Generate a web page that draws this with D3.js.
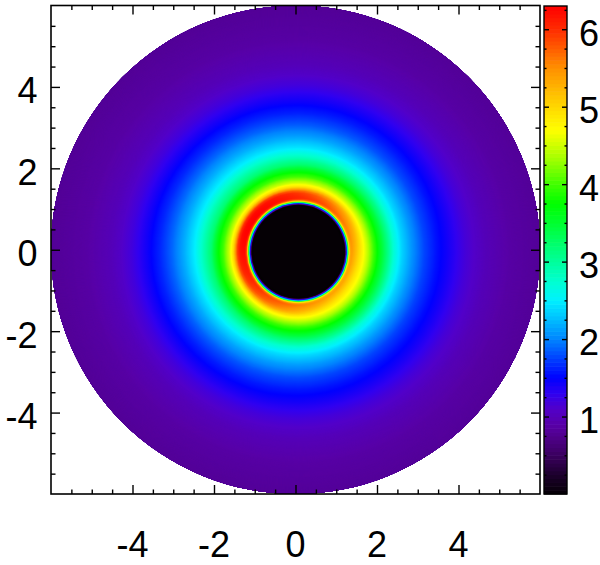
<!DOCTYPE html>
<html><head><meta charset="utf-8">
<script src="https://cdn.jsdelivr.net/npm/d3@7"></script>
<style>body{margin:0;background:#fff}svg{display:block}</style>
</head><body><svg id="c" width="600" height="565"></svg>
<script>
// ---- data ----
// radial profile (distance from the profile centre, data units)
const radii        = [1.10, 1.15, 1.17, 1.19, 1.21, 1.23, 1.25, 1.28, 1.32, 1.38, 1.44, 1.50, 1.55, 1.60, 1.70, 1.85, 2.00, 2.15, 2.35, 2.55, 2.80, 3.10, 3.40, 3.70, 4.10, 4.60, 5.20, 6.20];
// value on the hot (upper-left) side
const valuesLeft   = [0.0, 0.0, 0.8, 1.6, 2.6, 3.8, 5.0, 6.0, 6.3, 6.3, 6.25, 6.0, 5.5, 5.0, 4.5, 4.0, 3.65, 3.2, 2.85, 2.5, 2.2, 1.9, 1.65, 1.45, 1.2, 1.0, 0.88, 0.8];
// value on the opposite (lower-right) side
const valuesRight  = [0.0, 0.0, 0.8, 1.6, 2.6, 4.0, 4.9, 5.3, 5.35, 5.2, 5.05, 4.9, 4.8, 4.7, 4.45, 4.0, 3.6, 3.25, 2.7, 2.35, 2.05, 1.75, 1.55, 1.4, 1.18, 1.0, 0.88, 0.8];
const hotSideAngleDeg = [150];
const profileCenter = [0.07, -0.05];
const axisTicks = [-4, -2, 0, 2, 4];
const axisTickLabels = ["-4", "-2", "0", "2", "4"];
const axisMinorTicks = [-5.5,-5,-4.5,-3.5,-3,-2.5,-1.5,-1,-0.5,0.5,1,1.5,2.5,3,3.5,4.5,5,5.5];
const colorbarTicks = [1, 2, 3, 4, 5, 6];
const colorbarTickLabels = ["1", "2", "3", "4", "5", "6"];
const colorbarMinorTicks = d3.range(0.25, 6.3, 0.25).filter(v => Math.abs(v - Math.round(v)) > 0.01);
// colour table (value -> colour)
const colorValues = [0.0, 0.25, 0.5, 0.75, 0.9, 1.1, 1.3, 1.5, 1.75, 2.0, 2.25, 2.5, 2.75, 3.0, 3.25, 3.5, 3.75, 4.0, 4.35, 4.7, 5.0, 5.5, 6.0, 6.3];
const colorHexes  = ["#050005","#1c002c","#3a005e","#50008c","#5800a8","#5200c8","#3000f0","#0000ff","#0040ff","#0084ff","#00bcff","#00f0ff","#00ffd0","#00ff9c","#00ff68","#00ff30","#00ff00","#40ff00","#a8ff00","#ffff00","#ffd800","#ff9000","#ff2c00","#ff0000"];

// ---- drawing ----
const FONT = "'Liberation Sans', Arial, Helvetica, sans-serif";
const FS = 36;
const svg = d3.select("#c");
const x = d3.scaleLinear().domain([-6, 6]).range([51, 540]);
const y = d3.scaleLinear().domain([-6, 6]).range([494, 5.5]);
const color = d3.scaleLinear().domain(colorValues).range(colorHexes).clamp(true);
const cb = d3.scaleLinear().domain([0, 6.3]).range([494, 6]);

const defs = svg.append("defs");
defs.append("clipPath").attr("id", "disk").append("ellipse")
  .attr("cx", x(0)).attr("cy", y(0)).attr("rx", x(6) - x(0)).attr("ry", y(0) - y(6));

function profile(arr, r) {
  if (r <= radii[0]) return arr[0];
  for (let i = 1; i < radii.length; i++) {
    if (r <= radii[i]) {
      const t = (r - radii[i - 1]) / (radii[i] - radii[i - 1]);
      return arr[i - 1] + t * (arr[i] - arr[i - 1]);
    }
  }
  return arr[arr.length - 1];
}

const field = svg.append("g").attr("clip-path", "url(#disk)");
const pxu = x(1) - x(0);
const cx = x(profileCenter[0]), cy = y(profileCenter[1]);
const phi = hotSideAngleDeg[0] * Math.PI / 180;
const ux = Math.cos(phi), uy = -Math.sin(phi);
const ringRadii = d3.range(6.3, 1.08, -0.012);
ringRadii.forEach((r, i) => {
  const L = profile(valuesLeft, r), R = profile(valuesRight, r);
  const a = (L + R) / 2, b = (L - R) / 2;
  const rp = r * pxu;
  let fill;
  if (Math.abs(b) < 0.005) {
    fill = color(a);
  } else {
    const id = "g" + i;
    const lg = defs.append("linearGradient").attr("id", id)
      .attr("gradientUnits", "userSpaceOnUse")
      .attr("x1", cx - rp * ux).attr("y1", cy - rp * uy)
      .attr("x2", cx + rp * ux).attr("y2", cy + rp * uy);
    d3.range(0, 17).forEach(k => {
      const o = k / 16;
      lg.append("stop").attr("offset", o).attr("stop-color", color(a + b * (2 * o - 1)));
    });
    fill = "url(#" + id + ")";
  }
  field.append("circle").attr("cx", cx).attr("cy", cy).attr("r", rp).attr("fill", fill);
});

// ---- frame ticks ----
function ticks(axisGen, tx, ty, vals, size) {
  const g = svg.append("g").attr("transform", `translate(${tx},${ty})`)
    .call(axisGen.tickValues(vals).tickSize(size).tickFormat(""));
  g.select(".domain").remove();
  g.selectAll("line").attr("stroke", "#000").attr("stroke-width", 1.4);
  return g;
}
ticks(d3.axisBottom(x), 0, 494, axisTicks, -9);
ticks(d3.axisBottom(x), 0, 494, axisMinorTicks, -4.5);
ticks(d3.axisTop(x), 0, 5.5, axisTicks, -9);
ticks(d3.axisTop(x), 0, 5.5, axisMinorTicks, -4.5);
ticks(d3.axisLeft(y), 51, 0, axisTicks, -9);
ticks(d3.axisLeft(y), 51, 0, axisMinorTicks, -4.5);
ticks(d3.axisRight(y), 540, 0, axisTicks, -9);
ticks(d3.axisRight(y), 540, 0, axisMinorTicks, -4.5);

svg.append("rect").attr("x", 51).attr("y", 5.5).attr("width", 489).attr("height", 488.5)
  .attr("fill", "none").attr("stroke", "#000").attr("stroke-width", 1.6);

// axis labels
svg.append("g").selectAll("text").data(axisTicks).join("text")
  .attr("x", d => x(d)).attr("y", 557).attr("text-anchor", "middle")
  .attr("font-family", FONT).attr("font-size", FS).attr("fill", "#000")
  .text((d, i) => axisTickLabels[i]);
svg.append("g").selectAll("text").data(axisTicks).join("text")
  .attr("x", 37.5).attr("y", d => y(d) + 16.4).attr("text-anchor", "end")
  .attr("font-family", FONT).attr("font-size", FS).attr("fill", "#000")
  .text((d, i) => axisTickLabels[i]);

// ---- colour bar ----
const cbX = 544, cbW = 23;
const bins = d3.range(0, 6.3, 0.05);
svg.append("g").selectAll("rect").data(bins).join("rect")
  .attr("x", cbX).attr("width", cbW)
  .attr("y", d => cb(Math.min(d + 0.05, 6.3)))
  .attr("height", d => cb(d) - cb(Math.min(d + 0.05, 6.3)) + 0.6)
  .attr("fill", d => color(d + 0.025));
ticks(d3.axisLeft(cb), cbX, 0, colorbarTicks, -5);
ticks(d3.axisLeft(cb), cbX, 0, colorbarMinorTicks, -2.5);
ticks(d3.axisRight(cb), cbX + cbW, 0, colorbarTicks, -5);
ticks(d3.axisRight(cb), cbX + cbW, 0, colorbarMinorTicks, -2.5);
svg.append("rect").attr("x", cbX).attr("y", 6).attr("width", cbW).attr("height", 488)
  .attr("fill", "none").attr("stroke", "#000").attr("stroke-width", 1.4);
svg.append("g").selectAll("text").data(colorbarTicks).join("text")
  .attr("x", 579).attr("y", d => cb(d) + 16.4).attr("text-anchor", "start")
  .attr("font-family", FONT).attr("font-size", FS).attr("fill", "#000")
  .text((d, i) => colorbarTickLabels[i]);
</script>
</body></html>
